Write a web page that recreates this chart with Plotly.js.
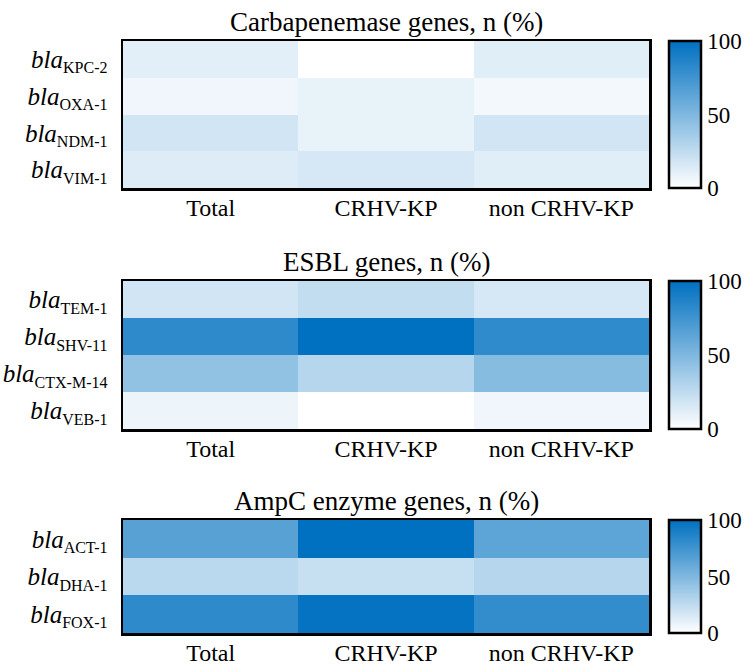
<!DOCTYPE html>
<html>
<head>
<meta charset="utf-8">
<script src="https://cdn.plot.ly/plotly-3.0.1.min.js"></script>
<style>html,body{margin:0;padding:0;background:#fff;}</style>
</head>
<body>
<div id="chart" style="width:753px;height:670px;"></div>
<script>
// Groups (columns)
const groups = ["Total", "CRHV-KP", "non CRHV-KP"];

// Panel titles
const titles = ["Carbapenemase genes, n (%)", "ESBL genes, n (%)", "AmpC enzyme genes, n (%)"];

// Gene names (rows, top to bottom)
const carbaGenes = ["KPC-2", "OXA-1", "NDM-1", "VIM-1"];
const esblGenes = ["TEM-1", "SHV-11", "CTX-M-14", "VEB-1"];
const ampcGenes = ["ACT-1", "DHA-1", "FOX-1"];

// Percent values, rows x columns [Total, CRHV-KP, non CRHV-KP]
const carbaValues = [
  [11, 0, 12],
  [6, 9, 5],
  [18, 9, 18],
  [13, 16, 12]
];
const esblValues = [
  [18, 24, 16],
  [82, 100, 81],
  [43, 29, 47],
  [7, 0, 6]
];
const ampcValues = [
  [66, 100, 63],
  [27, 22, 29],
  [82, 98, 80]
];

// Colorbar ticks
const cbTicks = [0, 50, 100];

const W = 753, H = 670;
const serif = "Liberation Serif";
const colorscale = [[0, "rgb(255,255,255)"], [1, "rgb(0,112,192)"]];

// layout geometry (pixels)
const plotL = 123, plotR = 649;
const panels = [
  {top: 41, bottom: 188, genes: carbaGenes, values: carbaValues},
  {top: 281, bottom: 429, genes: esblGenes, values: esblValues},
  {top: 520, bottom: 633, genes: ampcGenes, values: ampcValues}
];
const cbLeft = 669, cbThick = 32;

function geneLabel(g) {
  return "<i>bla</i><sub><span style=\"font-size:16px\">" + g + "</span></sub>";
}

const data = [];
const layout = {
  width: W, height: H,
  margin: {l: 0, r: 0, t: 0, b: 0},
  paper_bgcolor: "#fff", plot_bgcolor: "#fff",
  font: {family: serif, color: "#000"},
  showlegend: false,
  annotations: []
};

panels.forEach((p, i) => {
  const n = i + 1;
  const xa = n === 1 ? "x" : "x" + n;
  const ya = n === 1 ? "y" : "y" + n;
  const yd0 = 1 - p.bottom / H, yd1 = 1 - p.top / H;
  data.push({
    type: "heatmap",
    x: groups,
    y: p.genes.map(geneLabel),
    z: p.values,
    zmin: 0, zmax: 100,
    colorscale: colorscale,
    xaxis: xa, yaxis: ya,
    xgap: 0, ygap: 0,
    hoverinfo: "none",
    colorbar: {
      x: cbLeft / W, xanchor: "left", xref: "paper",
      y: (yd0 + yd1) / 2, yanchor: "middle", yref: "paper",
      len: yd1 - yd0, lenmode: "fraction",
      thickness: cbThick, thicknessmode: "pixels",
      xpad: 0, ypad: 0,
      outlinewidth: 2.5, outlinecolor: "#000",
      tickvals: cbTicks, ticktext: cbTicks.map(String),
      ticks: "", ticklen: 0,
      tickfont: {family: serif, size: 23, color: "#000"}
    }
  });
  const axX = {
    domain: [plotL / W, plotR / W],
    anchor: ya,
    showline: true, mirror: true, linewidth: 2.5, linecolor: "#000",
    ticks: "", showgrid: false, zeroline: false,
    ticklabelstandoff: -3,
    tickfont: {family: serif, size: 24, color: "#000"},
    fixedrange: true
  };
  const axY = {
    domain: [yd0, yd1],
    anchor: xa,
    autorange: "reversed",
    showline: true, mirror: true, linewidth: 2.5, linecolor: "#000",
    ticks: "", showgrid: false, zeroline: false,
    ticklabelstandoff: 8,
    tickfont: {family: serif, size: 25, color: "#000"},
    fixedrange: true
  };
  layout[n === 1 ? "xaxis" : "xaxis" + n] = axX;
  layout[n === 1 ? "yaxis" : "yaxis" + n] = axY;
  layout.annotations.push({
    text: titles[i],
    xref: "paper", yref: "paper",
    x: (plotL + plotR) / 2 / W, xanchor: "center",
    y: yd1 + 2 / H, yanchor: "bottom",
    showarrow: false,
    font: {family: serif, size: 27, color: "#000"}
  });
});

Plotly.newPlot("chart", data, layout, {displayModeBar: false, staticPlot: true});
</script>
</body>
</html>
